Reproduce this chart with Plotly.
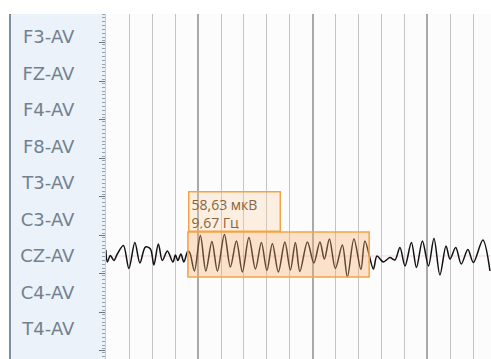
import plotly.graph_objects as go

# channel montage, top to bottom
channels = ["F3-AV", "FZ-AV", "F4-AV", "F8-AV", "T3-AV", "C3-AV", "CZ-AV", "C4-AV", "T4-AV"]
signal_channel = "CZ-AV"

# CZ-AV trace (time in s, amplitude in uV)
cz_time = [0.194, 0.207, 0.233, 0.264, 0.294, 0.347, 0.395, 0.447, 0.491, 0.539,
           0.583, 0.613, 0.652, 0.687, 0.731, 0.779, 0.801, 0.823, 0.849, 0.875,
           0.910, 0.928, 0.967, 1.019, 1.067, 1.120, 1.168, 1.229, 1.281, 1.334,
           1.386, 1.443, 1.500, 1.552, 1.600, 1.648, 1.700, 1.757, 1.805, 1.849,
           1.888, 1.954, 2.010, 2.063, 2.102, 2.146, 2.198, 2.259, 2.303, 2.360,
           2.421, 2.456, 2.530, 2.561, 2.617, 2.674, 2.718, 2.762, 2.806, 2.862,
           2.906, 2.958, 3.011, 3.059, 3.111, 3.164, 3.199, 3.249, 3.297, 3.355,
           3.403, 3.486, 3.548]
cz_uv = [10.8, -10.8, 0.9, -8.1, 3.6, 18.9, -22.5, 24.3, -12.6, 16.2,
         12.6, -16.2, 21.6, -8.1, 9.0, -10.8, 1.8, -8.1, 3.6, -10.8,
         9.0, 5.4, -27.0, 36.9, -27.0, 26.1, -27.0, 38.7, -19.8, 27.0,
         -28.8, 33.3, -23.4, 24.3, -26.1, 22.5, -28.8, 25.2, -25.2, 24.3,
         -27.9, 25.2, -12.6, 25.2, -5.4, 30.6, -22.5, 19.8, -37.8, 30.6,
         -24.3, 27.0, -23.4, 0.0, -10.8, -2.7, -7.2, 15.3, -18.0, 24.3,
         -20.7, 27.0, -18.0, 31.5, -34.2, 18.0, -5.4, 15.3, -14.4, 11.7,
         -11.7, 28.8, -27.0]

# selected fragment and its measurement
sel_start, sel_end = 0.910, 2.493
sel_text = ["58,63 мкВ", "9,67 Гц"]

UV_PER_ROW = 65.7
T_RANGE = [0.195, 3.557]
ROW_RANGE = [8.822, -0.630]

row = channels.index(signal_channel)
y_plot = [row - v / UV_PER_ROW for v in cz_uv]

fig = go.Figure()
fig.add_trace(go.Scatter(
    x=cz_time, y=y_plot, mode="lines",
    line=dict(color="#111111", width=1.5, shape="spline", smoothing=0.9),
    showlegend=False, hoverinfo="skip",
))
# carrier for the ruler axis
fig.add_trace(go.Scatter(x=[], y=[], yaxis="y2", showlegend=False, hoverinfo="skip"))

# left label panel
fig.add_shape(type="rect", xref="paper", yref="paper", x0=-0.2494, x1=-0.001, y0=0, y1=1,
              fillcolor="#ebf2f9", line_width=0, layer="below")
fig.add_shape(type="line", xref="paper", yref="paper", x0=-0.2494, x1=-0.2494, y0=0, y1=1,
              line=dict(color="#7e8d9f", width=2))

# faint baseline of the channel
fig.add_shape(type="line", xref="paper", yref="y", x0=0, x1=1, y0=row, y1=row,
              line=dict(color="rgba(225,170,170,0.45)", width=1), layer="below")

# selection box and its label box
fig.add_shape(type="rect", x0=sel_start, x1=sel_end, y0=row - 0.658, y1=row + 0.575,
              fillcolor="rgba(250,175,110,0.35)", line=dict(color="#f4a445", width=1.5))
fig.add_annotation(
    x=sel_start, y=row - 0.658, xanchor="left", yanchor="bottom", showarrow=False,
    text="<br>".join(sel_text), align="left", valign="top",
    width=86, height=34, borderpad=2,
    bgcolor="rgba(252,205,160,0.3)", bordercolor="#f4a445", borderwidth=1.5,
    font=dict(family="Open Sans, sans-serif", size=14, color="#86653f"),
)

fig.update_layout(
    width=491, height=359,
    margin=dict(l=106, r=0, t=14, b=0),
    paper_bgcolor="white", plot_bgcolor="#fcfcfc",
    xaxis=dict(
        range=T_RANGE, tick0=0, dtick=1, showticklabels=False, ticks="",
        showgrid=True, gridcolor="#a9a9a9", gridwidth=2, zeroline=False,
        minor=dict(dtick=0.2, showgrid=True, gridcolor="#c4c4c4", gridwidth=1),
    ),
    yaxis=dict(
        range=ROW_RANGE, tickvals=list(range(len(channels))), ticktext=channels,
        ticks="", showgrid=False, zeroline=False, ticklabelstandoff=27,
        showline=True, linecolor="#c3cbd4", linewidth=1,
        tickfont=dict(family="DejaVu Sans, sans-serif", size=18, color="#72818f"),
    ),
    yaxis2=dict(
        overlaying="y", side="left", anchor="x", range=[345, 0],
        tick0=28.7, dtick=38.5, ticks="outside", ticklen=6, tickcolor="#6c7684",
        showticklabels=False, showgrid=False, zeroline=False,
        minor=dict(dtick=3.85, ticks="outside", ticklen=3, tickcolor="#97a1ad"),
    ),
)

# drop the default page margin so the figure fills the window exactly; no modebar
fig.write_html(
    "out.html",
    config={"displayModeBar": False},
    post_script="document.body.style.margin='0';document.body.style.overflow='hidden';",
)
